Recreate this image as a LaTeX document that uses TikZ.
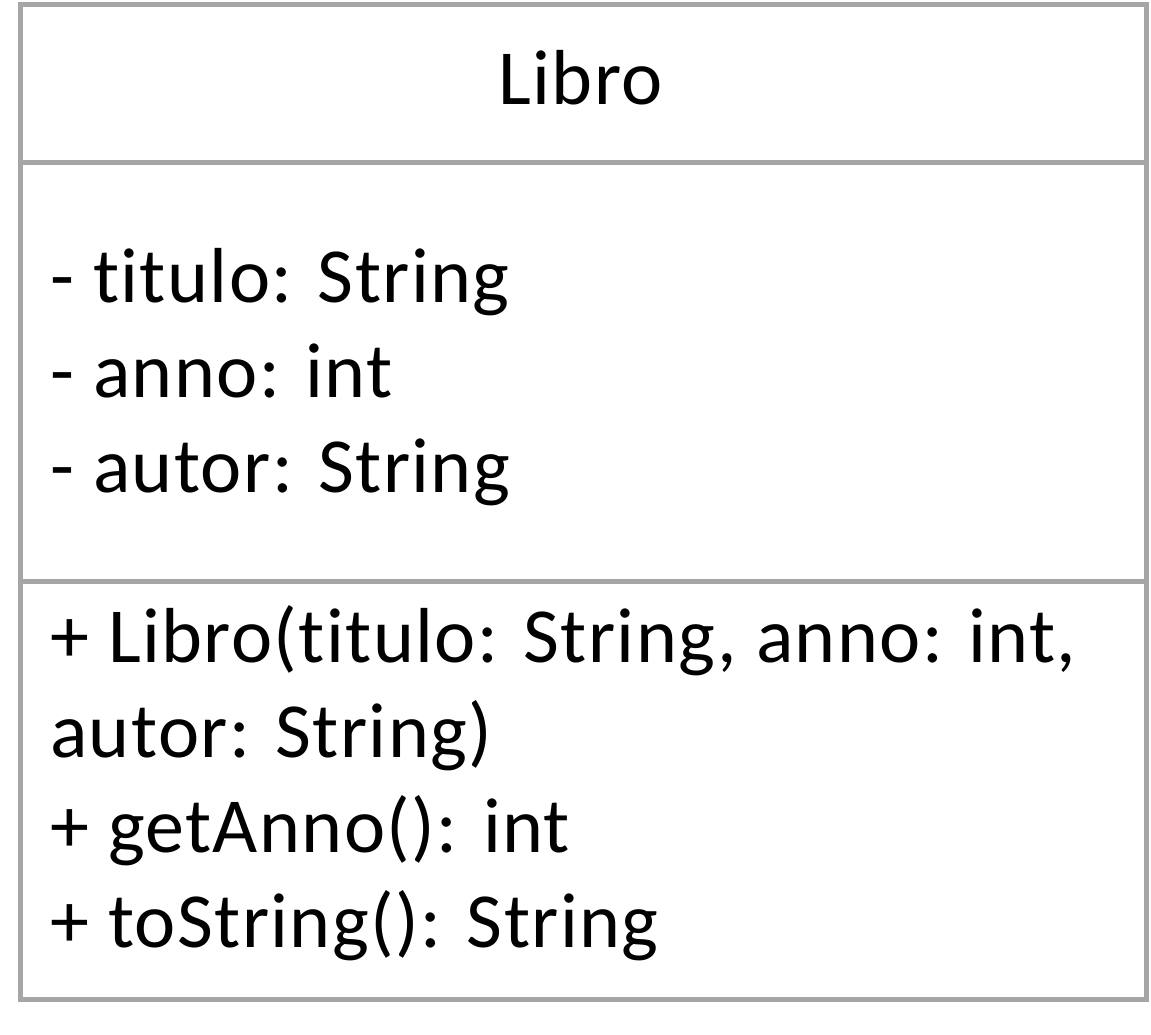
\documentclass[tikz,border=0pt]{standalone}
\usepackage{fontspec}
\setmainfont[Ligatures={NoCommon},LetterSpace=1.8]{Carlito}
\definecolor{umlgray}{HTML}{A6A6A6}
\begin{document}
\begin{tikzpicture}[x=1pt,y=1pt,
  compartment/.style={draw=umlgray, line width=5pt, inner sep=0pt, minimum width=1126pt, anchor=north west},
  umltext/.style={inner sep=0pt, anchor=base west, font=\fontsize{78}{95}\selectfont, text=black},
  umltitle/.style={inner sep=0pt, anchor=base, font=\fontsize{78}{95}\selectfont, text=black}]
\useasboundingbox (0,0) rectangle (1151,-1035);
\node[compartment, minimum height=158pt] (head) at (17.5,-2.5) {};
\node[compartment, minimum height=418pt] (attrs) at (17.5,-160.5) {};
\node[compartment, minimum height=418pt] (ops) at (17.5,-578.5) {};
\node[umltitle] (name) at (580.5,-105) {Libro};
\node[umltext] (a1) at (50,-302) {- titulo: String};
\node[umltext] (a2) at (50,-397) {- anno: int};
\node[umltext] (a3) at (50,-492) {- autor: String};
\node[umltext] (m1) at (50,-662) {+ Libro(titulo: String, anno: int,};
\node[umltext] (m2) at (50,-757) {autor: String)};
\node[umltext] (m3) at (50,-852) {+ getAnno(): int};
\node[umltext] (m4) at (50,-947) {+ toString(): String};
\end{tikzpicture}
\end{document}
